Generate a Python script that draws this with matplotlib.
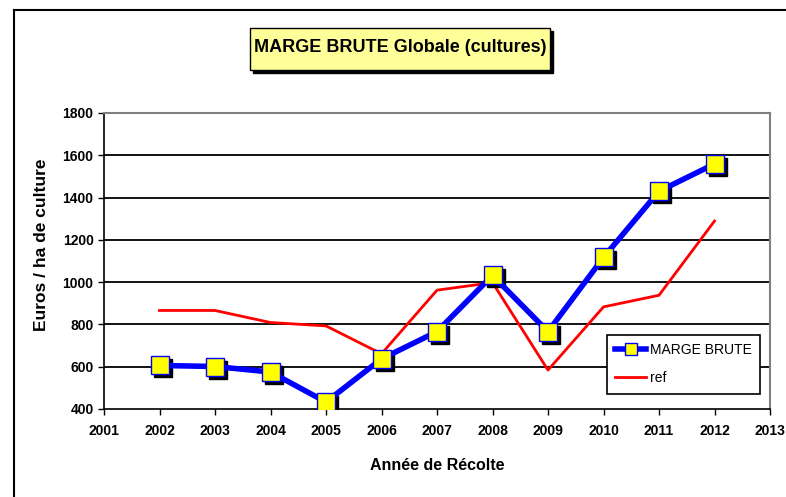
import matplotlib.pyplot as plt
import matplotlib.transforms as mtransforms
from matplotlib.lines import Line2D
from matplotlib.patches import Rectangle

plt.rcParams['font.family'] = ['Liberation Sans', 'DejaVu Sans']

# data
years = [2002, 2003, 2004, 2005, 2006, 2007, 2008, 2009, 2010, 2011, 2012]
marge = [606, 601, 575, 433, 637, 766, 1032, 766, 1117, 1430, 1559]
ref = [866, 866, 809, 793, 661, 962, 998, 584, 883, 938, 1289]
xticks = list(range(2001, 2014))
yticks = list(range(400, 1801, 200))

fig = plt.figure(figsize=(7.86, 4.97), dpi=100)
ax = fig.add_axes([104/786, 1 - 409/497, 666/786, 296/497])

# outer chart frame (top and left lines)
fig.add_artist(Line2D([14/786, 1], [1 - 10/497, 1 - 10/497], color='black', lw=1.5))
fig.add_artist(Line2D([14/786, 14/786], [0, 1 - 10/497], color='black', lw=1.5))

# grid
for y in yticks[1:-1]:
    ax.axhline(y, color='black', lw=1.3, zorder=1)

ax.plot(years, ref, color='red', lw=2, zorder=2, label='ref')

shadow = mtransforms.offset_copy(ax.transData, fig=fig, x=3, y=-3, units='dots')
ax.plot(years, marge, ls='none', marker='s', ms=13, mfc='black', mec='black',
        transform=shadow, zorder=3)
ax.plot(years, marge, color='blue', lw=4, zorder=3)
ax.plot(years, marge, ls='none', marker='s', ms=13, mfc='yellow', mec='blue',
        mew=1, zorder=4)

ax.set_xlim(2001, 2013)
ax.set_ylim(400, 1800)
ax.set_xticks(xticks)
ax.set_yticks(yticks)
ax.tick_params(axis='both', direction='out', length=4, width=1, labelsize=10)
for lab in ax.get_xticklabels() + ax.get_yticklabels():
    lab.set_fontweight('bold')
ax.tick_params(axis='x', pad=7)

ax.spines['top'].set_color('gray')
ax.spines['right'].set_color('gray')
ax.spines['top'].set_linewidth(1.5)
ax.spines['right'].set_linewidth(1.5)
ax.spines['left'].set_linewidth(1.2)
ax.spines['bottom'].set_linewidth(1.2)

fig.text(42/786, 1 - 245/497, 'Euros / ha de culture', rotation=90, ha='center',
         va='center', fontsize=12.5, fontweight='bold')
fig.text(437/786, 1 - 465/497, 'Année de Récolte', ha='center', va='center',
         fontsize=11.5, fontweight='bold')

# legend
h1 = Line2D([], [], color='blue', lw=4, marker='s', ms=9, mfc='yellow', mec='blue')
h2 = Line2D([], [], color='red', lw=2)
leg = fig.legend([h1, h2], ['MARGE BRUTE', 'ref'], loc='upper left',
                 bbox_to_anchor=(607/786, 1 - 335/497), fancybox=False,
                 edgecolor='black', framealpha=1, fontsize=10, handlelength=2.2,
                 borderpad=0.6, labelspacing=1.0, handletextpad=0.3,
                 borderaxespad=0)
leg.get_frame().set_linewidth(1.2)

# title box with shadow
fig.add_artist(Rectangle((253/786, 1 - 73/497), 300/786, 42/497,
                         facecolor='black', edgecolor='black'))
fig.add_artist(Rectangle((250/786, 1 - 70/497), 300/786, 42/497,
                         facecolor='#FFFF99', edgecolor='black', lw=1))
fig.text(400/786, 1 - 48/497, 'MARGE BRUTE Globale (cultures)', ha='center',
         va='center', fontsize=13, fontweight='bold')

fig.savefig('out.png', dpi=100)
